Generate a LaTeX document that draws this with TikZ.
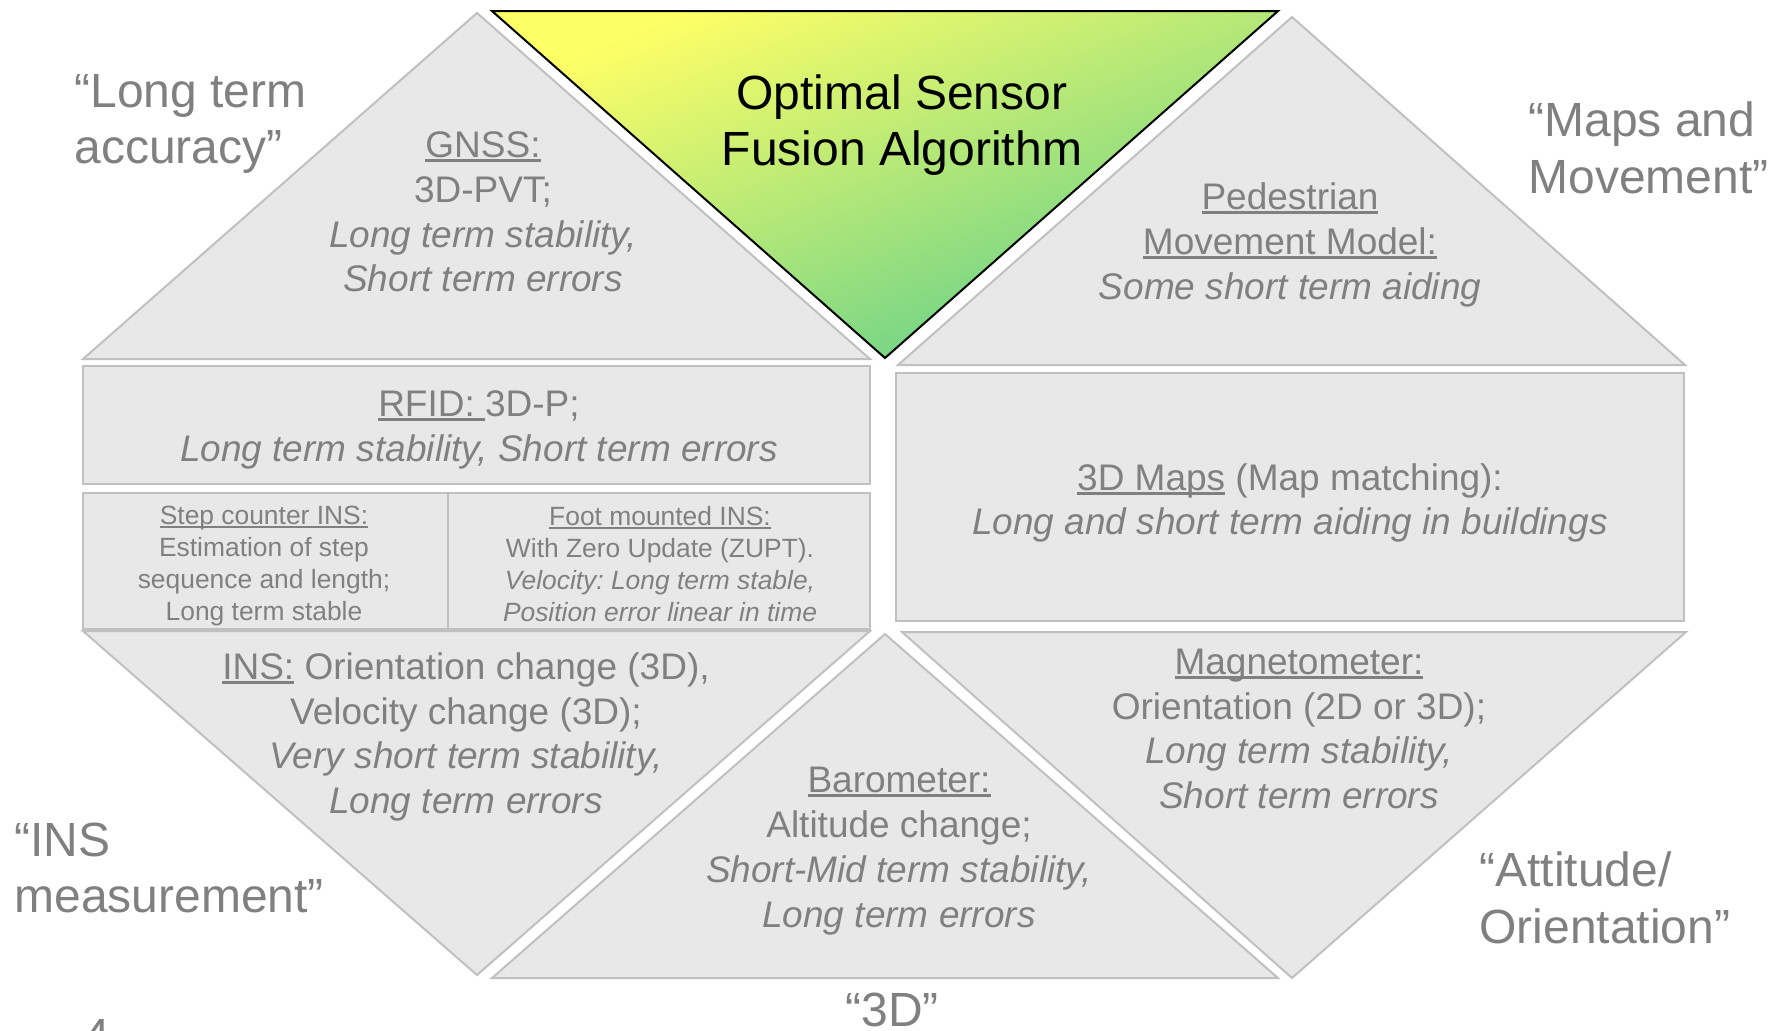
\documentclass[tikz,border=0pt]{standalone}
\usepackage{fontspec}
\setmainfont{Liberation Sans}
\usetikzlibrary{positioning}
\frenchspacing

\definecolor{panelfill}{RGB}{232,232,232}
\definecolor{panelline}{RGB}{192,192,192}
\definecolor{textgrey}{RGB}{128,128,128}
\definecolor{fusiontop}{RGB}{255,255,102}
\definecolor{fusionbot}{RGB}{96,206,140}

% underline at a fixed depth, like the slide software does
\newcommand{\undl}[1]{\setbox0\hbox{#1}\rlap{\rule[-0.12em]{\wd0}{0.075em}}\box0\relax}

\tikzset{
    panel/.style={fill=panelfill, draw=panelline, line width=1pt},
    txt/.style={text=textgrey, align=center, inner sep=0pt, font=\fontsize{18.5}{22.4}\selectfont},
    smalltxt/.style={txt, font=\fontsize{13.2}{15.85}\selectfont},
    biglabel/.style={text=textgrey, align=left, inner sep=0pt, anchor=west, font=\fontsize{24}{28.3}\selectfont}
}

\begin{document}
\begin{tikzpicture}[x=0.5pt, y=-0.5pt]
    \useasboundingbox (0,0) rectangle (1777,1030);
    % corners of the panels
    \coordinate (gA) at (477,13);
    \coordinate (gL) at (83,359);
    \coordinate (gR) at (870,359);
    \coordinate (fL) at (492,11);
    \coordinate (fR) at (1278,11);
    \coordinate (fB) at (885,358);
    \coordinate (pA) at (1292,17);
    \coordinate (pL) at (898,365);
    \coordinate (pR) at (1685,365);
    \coordinate (iL) at (83,631);
    \coordinate (iR) at (870,631);
    \coordinate (iB) at (477,975);
    \coordinate (bA) at (885,634);
    \coordinate (bL) at (492,978);
    \coordinate (bR) at (1278,978);
    \coordinate (mL) at (902,632);
    \coordinate (mR) at (1686,632);
    \coordinate (mB) at (1292,978);

    \draw[panel] (gA) -- (gR) -- (gL) -- cycle;
    \draw[panel] (pA) -- (pR) -- (pL) -- cycle;
    \draw[panel] (83,366) rectangle (870,484);
    \draw[panel] (83,493) rectangle (448,629);
    \draw[panel] (448,493) rectangle (870,629);
    \draw[panel] (896,373) rectangle (1684,621);
    \draw[panel] (iL) -- (iR) -- (iB) -- cycle;
    \draw[panel] (bA) -- (bR) -- (bL) -- cycle;
    \draw[panel] (mL) -- (mR) -- (mB) -- cycle;
    \shade[top color=fusiontop, bottom color=fusionbot, shading angle=22] (fL) -- (fR) -- (fB) -- cycle;
    \draw[line width=1pt, line join=miter] (fL) -- (fR) -- (fB) -- cycle;

    \node[align=center, inner sep=0pt, font=\fontsize{24}{28.3}\selectfont] (fusion) at (902,125) {Optimal Sensor\\Fusion Algorithm};

    \node[txt] (gnss) at (483,212) {\undl{GNSS:}\\3D-PVT;\\\textit{Long term stability,}\\\textit{Short term errors}};
    \node[txt] (pedestrian) at (1290,245) {\undl{Pedestrian}\\\undl{Movement Model:}\\\textit{Some short term aiding}};
    \node[txt] (rfid) at (479,430) {\undl{RFID:\ }3D-P;\\\textit{Long term stability, Short term errors}};
    \node[smalltxt] (stepins) at (264,566) {\undl{Step counter INS:}\\Estimation of step\\sequence and length;\\Long term stable};
    \node[smalltxt] (footins) at (660,564) {\undl{Foot mounted INS:}\\With Zero Update (ZUPT).\\\textit{Velocity: Long term stable,}\\\textit{Position error linear in time}};
    \node[txt] (maps) at (1290,503) {\undl{3D Maps} (Map matching):\\\textit{Long and short term aiding in buildings}};
    \node[txt] (ins) at (466,737) {\undl{INS:} Orientation change (3D),\\Velocity change (3D);\\\textit{Very short term stability,}\\\textit{Long term errors}};
    \node[txt] (baro) at (899,851) {\undl{Barometer:}\\Altitude change;\\\textit{Short-Mid term stability,}\\\textit{Long term errors}};
    \node[txt] (magneto) at (1299,729) {\undl{Magnetometer:}\\Orientation (2D or 3D);\\\textit{Long term stability,}\\\textit{Short term errors}};

    \node[biglabel] (accuracy) at (74,124) {``Long term\\accuracy''};
    \node[biglabel] (movement) at (1528,148) {``Maps and\\Movement''};
    \node[biglabel] (measurement) at (14,868) {``INS\\measurement''};
    \node[biglabel] (attitude) at (1479,898) {``Attitude/\\Orientation''};
    \node[biglabel, anchor=base] (threed) at (892,1026) {``3D''};
    \node[biglabel, anchor=base west] (pageno) at (83,1052) {4};
\end{tikzpicture}
\end{document}
